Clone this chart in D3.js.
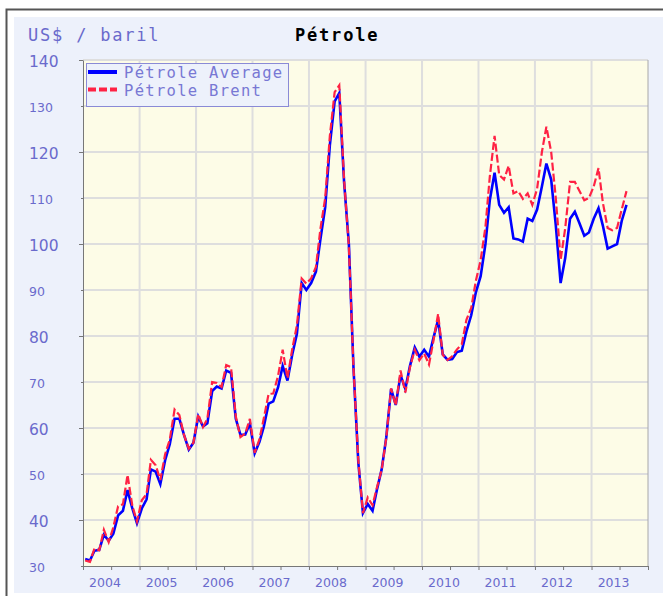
<!DOCTYPE html>
<html>
<head>
<meta charset="utf-8">
<script src="https://cdn.jsdelivr.net/npm/d3@7"></script>
<style>
  body { margin: 0; background: #fff; }
</style>
</head>
<body>
<div id="chart"></div>
<script>
// monthly values, Jan 2004 .. Aug 2013
const firstMonth = "2004-01-15";

const average = [
  31.5, 31.2, 33.3, 33.5, 36.8, 35.5, 37.0, 41.0, 42.0, 46.5, 42.5, 39.3,
  42.5, 44.5, 51.0, 50.5, 47.8, 53.0, 56.5, 62.0, 62.0, 58.5, 55.3, 56.8,
  62.5, 60.3, 61.0, 68.0, 69.0, 68.6, 72.5, 72.0, 62.0, 58.5, 58.6, 61.0,
  54.5, 57.0, 60.3, 65.3, 65.8, 68.8, 73.5, 70.3, 76.0, 80.5, 91.5, 90.0,
  91.5, 94.0, 101.0, 108.0, 121.5, 131.0, 132.8, 113.5, 100.0, 73.0, 52.5, 41.5,
  43.5, 42.0, 46.5, 51.0, 58.0, 68.5, 65.0, 71.5, 68.5, 73.5, 77.5, 75.5,
  77.0, 75.5, 79.5, 83.5, 76.0, 74.8, 75.0, 76.5, 76.8, 81.0, 84.5, 89.5,
  93.0, 100.0, 109.5, 115.5, 108.5, 106.8, 108.0, 101.2, 101.0, 100.5, 105.5, 105.0,
  107.5, 112.5, 117.5, 114.0, 104.0, 91.5, 97.0, 105.5, 107.0, 104.5, 101.8, 102.5,
  105.5, 107.8, 104.0, 99.0, 99.5, 100.0, 105.0, 108.5
];

const brent = [
  31.2, 30.9, 33.8, 33.4, 37.9, 35.2, 38.4, 43.0, 43.4, 49.8, 43.1, 39.7,
  44.3, 45.6, 53.1, 51.9, 48.7, 54.3, 57.5, 64.0, 62.8, 58.5, 55.5, 56.8,
  63.0, 60.2, 62.0, 70.0, 69.8, 68.9, 73.7, 73.2, 62.5, 58.0, 58.8, 62.0,
  54.6, 57.6, 62.1, 67.4, 67.5, 71.3, 77.0, 70.8, 77.2, 82.3, 92.5, 91.4,
  92.5, 95.0, 103.3, 110.0, 123.5, 133.0, 134.5, 114.0, 99.5, 73.0, 53.0, 41.5,
  44.9, 43.2, 47.0, 50.9, 57.9, 68.6, 64.9, 72.5, 67.7, 73.2, 77.0, 74.7,
  76.2, 73.8, 78.8, 84.8, 75.9, 74.8, 75.6, 77.1, 78.2, 83.5, 86.1, 92.0,
  96.5, 103.7, 114.6, 123.5, 115.0, 114.0, 117.0, 111.0, 111.5, 109.8, 111.0, 108.5,
  112.0, 120.0, 125.5, 120.0, 110.0, 96.5, 103.5, 113.5, 113.5, 111.5, 109.5, 110.0,
  112.5, 116.5, 109.0, 103.5, 103.0, 103.5, 107.5, 111.5
];

const years = ["2004", "2005", "2006", "2007", "2008", "2009", "2010", "2011", "2012", "2013"];
const yTicks = [30, 40, 50, 60, 70, 80, 90, 100, 110, 120, 130, 140];
const seriesNames = ["Pétrole Average", "Pétrole Brent"];

const W = 663, H = 596;
const plot = {left: 83, top: 60, right: 648, bottom: 566};
const labelColor = "#6a6acc";

const parse = d3.timeParse("%Y-%m-%d");
const start = parse(firstMonth);
const dates = average.map((d, i) => d3.timeMonth.offset(start, i));

const svg = d3.select("#chart")
    .append("svg")
    .attr("width", W)
    .attr("height", H);

// outer frame + panel
svg.append("rect")
    .attr("x", 6.5).attr("y", 9.5)
    .attr("width", 700).attr("height", 700)
    .attr("fill", "#fff").attr("stroke", "#555").attr("stroke-width", 2);
svg.append("rect")
    .attr("x", 14).attr("y", 17)
    .attr("width", 700).attr("height", 576)
    .attr("fill", "#edf1fb");

const x = d3.scaleTime()
    .domain([new Date(2004, 0, 1), new Date(2014, 0, 1)])
    .range([plot.left, plot.right]);

const y = d3.scaleLinear()
    .domain([30, 140])
    .range([plot.bottom, plot.top]);

// plot area
svg.append("rect")
    .attr("x", plot.left).attr("y", plot.top)
    .attr("width", plot.right - plot.left)
    .attr("height", plot.bottom - plot.top)
    .attr("fill", "#fdfce7");

// grid
svg.append("g")
    .selectAll("line")
    .data(yTicks.slice(1))
    .join("line")
    .attr("x1", plot.left).attr("x2", plot.right)
    .attr("y1", d => y(d)).attr("y2", d => y(d))
    .attr("stroke", "#dedede").attr("stroke-width", 2);

const yearStarts = years.map(d => new Date(+d, 0, 1));
svg.append("g")
    .selectAll("line")
    .data(yearStarts.slice(1))
    .join("line")
    .attr("x1", d => x(d)).attr("x2", d => x(d))
    .attr("y1", plot.top).attr("y2", plot.bottom)
    .attr("stroke", "#dedede").attr("stroke-width", 2);

svg.append("line")
    .attr("x1", plot.right).attr("x2", plot.right)
    .attr("y1", plot.top).attr("y2", plot.bottom)
    .attr("stroke", "#a8a8a8");

// y axis
const yAxis = svg.append("g")
    .attr("transform", `translate(${plot.left},0)`)
    .call(d3.axisLeft(y).tickValues(yTicks).tickSize(4).tickSizeOuter(0));
yAxis.select(".domain").attr("stroke", "#777");
yAxis.selectAll(".tick line")
    .attr("stroke", "#777")
    .attr("x2", d => d % 20 === 0 ? -4 : -2);
yAxis.selectAll(".tick text")
    .attr("x", 29 - plot.left)
    .attr("dy", d => d % 20 === 0 ? "0.42em" : "0.45em")
    .attr("text-anchor", "start")
    .attr("fill", labelColor)
    .style("font-family", "'DejaVu Sans', sans-serif")
    .style("font-size", d => d % 20 === 0 ? "15.5px" : "12.5px");

// x axis, ticks every half year
const halfYears = d3.timeMonth.every(6).range(new Date(2004, 0, 1), new Date(2014, 0, 2));
const xAxis = svg.append("g")
    .attr("transform", `translate(0,${plot.bottom})`)
    .call(d3.axisBottom(x).tickValues(halfYears).tickSize(4).tickSizeOuter(0).tickFormat(""));
xAxis.select(".domain").attr("stroke", "#777");
xAxis.selectAll(".tick line").attr("stroke", "#777");

svg.append("g")
    .selectAll("text")
    .data(years)
    .join("text")
    .attr("x", d => x(new Date(+d, 0, 1)) + 22)
    .attr("y", 587)
    .attr("text-anchor", "middle")
    .attr("fill", labelColor)
    .style("font-family", "'DejaVu Sans', sans-serif")
    .style("font-size", "12.5px")
    .text(d => d);

// lines
const line = d3.line()
    .x((d, i) => x(dates[i]))
    .y(d => y(d));

svg.append("path")
    .datum(average)
    .attr("d", line)
    .attr("fill", "none")
    .attr("stroke", "#0000ff")
    .attr("stroke-width", 2.6);

svg.append("path")
    .datum(brent)
    .attr("d", line)
    .attr("fill", "none")
    .attr("stroke", "#ff2244")
    .attr("stroke-width", 2.2)
    .attr("stroke-dasharray", "8,3");

// titles
svg.append("text")
    .attr("x", 28).attr("y", 41)
    .attr("fill", labelColor)
    .style("font-family", "'DejaVu Sans Mono', monospace")
    .style("font-size", "17px")
    .style("letter-spacing", "1.8px")
    .text("US$ / baril");

svg.append("text")
    .attr("x", 295).attr("y", 41)
    .attr("fill", "#000")
    .style("font-family", "'DejaVu Sans Mono', monospace")
    .style("font-weight", "bold")
    .style("font-size", "17px")
    .style("letter-spacing", "1.8px")
    .text("Pétrole");

// legend
const legend = svg.append("g");
legend.append("rect")
    .attr("x", 86.5).attr("y", 63.5)
    .attr("width", 202).attr("height", 43)
    .attr("fill", "#edf1fb")
    .attr("stroke", "#8a8ad6");

const legendStyle = [
  {color: "#0000ff", dash: null, width: 4},
  {color: "#ff2244", dash: "8,3", width: 4}
];

seriesNames.forEach((name, i) => {
  const ly = 72 + i * 17.5;
  legend.append("line")
      .attr("x1", 88).attr("x2", 117)
      .attr("y1", ly).attr("y2", ly)
      .attr("stroke", legendStyle[i].color)
      .attr("stroke-width", legendStyle[i].width)
      .attr("stroke-dasharray", legendStyle[i].dash);
  legend.append("text")
      .attr("x", 124).attr("y", ly + 6)
      .attr("fill", "#7878d4")
      .style("font-family", "'DejaVu Sans Mono', monospace")
      .style("font-size", "15.5px")
      .style("letter-spacing", "1.3px")
      .text(name);
});
</script>
</body>
</html>
